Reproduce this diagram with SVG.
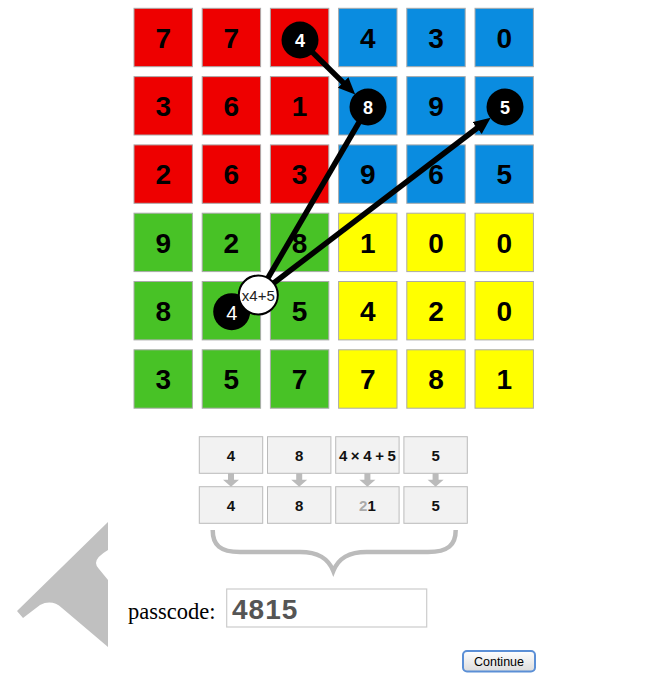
<svg xmlns="http://www.w3.org/2000/svg" width="658" height="685" viewBox="0 0 658 685">
<defs>
<style>
.cell{stroke:#aaaaaa;stroke-width:1}
.r{fill:#ee0000}.b{fill:#0a8ce0}.g{fill:#48c226}.y{fill:#ffff00}
.num{font-family:"Liberation Sans",Arial,sans-serif;font-weight:bold;font-size:28px;fill:#000;text-anchor:middle}
.dot{fill:#000}
.dtxt{font-family:"Liberation Sans",Arial,sans-serif;font-weight:bold;font-size:18px;fill:#fff;text-anchor:middle}
.conn{stroke:#000;stroke-width:5.5;fill:none}
.box{fill:#f2f2f2;stroke:#bbbbbb;stroke-width:1}
.btxt{font-family:"Liberation Sans",Arial,sans-serif;font-weight:bold;font-size:15px;fill:#111;text-anchor:middle}
.garrow{fill:#bbbbbb}
</style>
<marker id="ah" markerUnits="userSpaceOnUse" markerWidth="18" markerHeight="16" refX="8" refY="7.5" orient="auto">
<path d="M0,0 L17,7.5 L0,15 Z" fill="#000"/>
</marker>
<linearGradient id="btn" x1="0" y1="0" x2="0" y2="1">
<stop offset="0" stop-color="#ffffff"/>
<stop offset="1" stop-color="#dcdcdc"/>
</linearGradient>
</defs>

<g id="grid">
<g id="cell-0-0"><rect class="cell r" x="134" y="8.3" width="58.4" height="58.4"/><text class="num" x="163.2" y="47.8">7</text></g>
<g id="cell-1-0"><rect class="cell r" x="202.2" y="8.3" width="58.4" height="58.4"/><text class="num" x="231.4" y="47.8">7</text></g>
<g id="cell-2-0"><rect class="cell r" x="270.4" y="8.3" width="58.4" height="58.4"/></g>
<g id="cell-3-0"><rect class="cell b" x="338.6" y="8.3" width="58.4" height="58.4"/><text class="num" x="367.8" y="47.8">4</text></g>
<g id="cell-4-0"><rect class="cell b" x="406.8" y="8.3" width="58.4" height="58.4"/><text class="num" x="436" y="47.8">3</text></g>
<g id="cell-5-0"><rect class="cell b" x="475" y="8.3" width="58.4" height="58.4"/><text class="num" x="504.2" y="47.8">0</text></g>

<g id="cell-0-1"><rect class="cell r" x="134" y="76.6" width="58.4" height="58.4"/><text class="num" x="163.2" y="116.1">3</text></g>
<g id="cell-1-1"><rect class="cell r" x="202.2" y="76.6" width="58.4" height="58.4"/><text class="num" x="231.4" y="116.1">6</text></g>
<g id="cell-2-1"><rect class="cell r" x="270.4" y="76.6" width="58.4" height="58.4"/><text class="num" x="299.6" y="116.1">1</text></g>
<g id="cell-3-1"><rect class="cell b" x="338.6" y="76.6" width="58.4" height="58.4"/></g>
<g id="cell-4-1"><rect class="cell b" x="406.8" y="76.6" width="58.4" height="58.4"/><text class="num" x="436" y="116.1">9</text></g>
<g id="cell-5-1"><rect class="cell b" x="475" y="76.6" width="58.4" height="58.4"/></g>

<g id="cell-0-2"><rect class="cell r" x="134" y="144.9" width="58.4" height="58.4"/><text class="num" x="163.2" y="184.4">2</text></g>
<g id="cell-1-2"><rect class="cell r" x="202.2" y="144.9" width="58.4" height="58.4"/><text class="num" x="231.4" y="184.4">6</text></g>
<g id="cell-2-2"><rect class="cell r" x="270.4" y="144.9" width="58.4" height="58.4"/><text class="num" x="299.6" y="184.4">3</text></g>
<g id="cell-3-2"><rect class="cell b" x="338.6" y="144.9" width="58.4" height="58.4"/><text class="num" x="367.8" y="184.4">9</text></g>
<g id="cell-4-2"><rect class="cell b" x="406.8" y="144.9" width="58.4" height="58.4"/><text class="num" x="436" y="184.4">6</text></g>
<g id="cell-5-2"><rect class="cell b" x="475" y="144.9" width="58.4" height="58.4"/><text class="num" x="504.2" y="184.4">5</text></g>

<g id="cell-0-3"><rect class="cell g" x="134" y="213.2" width="58.4" height="58.4"/><text class="num" x="163.2" y="252.7">9</text></g>
<g id="cell-1-3"><rect class="cell g" x="202.2" y="213.2" width="58.4" height="58.4"/><text class="num" x="231.4" y="252.7">2</text></g>
<g id="cell-2-3"><rect class="cell g" x="270.4" y="213.2" width="58.4" height="58.4"/><text class="num" x="299.6" y="252.7">8</text></g>
<g id="cell-3-3"><rect class="cell y" x="338.6" y="213.2" width="58.4" height="58.4"/><text class="num" x="367.8" y="252.7">1</text></g>
<g id="cell-4-3"><rect class="cell y" x="406.8" y="213.2" width="58.4" height="58.4"/><text class="num" x="436" y="252.7">0</text></g>
<g id="cell-5-3"><rect class="cell y" x="475" y="213.2" width="58.4" height="58.4"/><text class="num" x="504.2" y="252.7">0</text></g>

<g id="cell-0-4"><rect class="cell g" x="134" y="281.5" width="58.4" height="58.4"/><text class="num" x="163.2" y="321">8</text></g>
<g id="cell-1-4"><rect class="cell g" x="202.2" y="281.5" width="58.4" height="58.4"/></g>
<g id="cell-2-4"><rect class="cell g" x="270.4" y="281.5" width="58.4" height="58.4"/><text class="num" x="299.6" y="321">5</text></g>
<g id="cell-3-4"><rect class="cell y" x="338.6" y="281.5" width="58.4" height="58.4"/><text class="num" x="367.8" y="321">4</text></g>
<g id="cell-4-4"><rect class="cell y" x="406.8" y="281.5" width="58.4" height="58.4"/><text class="num" x="436" y="321">2</text></g>
<g id="cell-5-4"><rect class="cell y" x="475" y="281.5" width="58.4" height="58.4"/><text class="num" x="504.2" y="321">0</text></g>

<g id="cell-0-5"><rect class="cell g" x="134" y="349.8" width="58.4" height="58.4"/><text class="num" x="163.2" y="389.3">3</text></g>
<g id="cell-1-5"><rect class="cell g" x="202.2" y="349.8" width="58.4" height="58.4"/><text class="num" x="231.4" y="389.3">5</text></g>
<g id="cell-2-5"><rect class="cell g" x="270.4" y="349.8" width="58.4" height="58.4"/><text class="num" x="299.6" y="389.3">7</text></g>
<g id="cell-3-5"><rect class="cell y" x="338.6" y="349.8" width="58.4" height="58.4"/><text class="num" x="367.8" y="389.3">7</text></g>
<g id="cell-4-5"><rect class="cell y" x="406.8" y="349.8" width="58.4" height="58.4"/><text class="num" x="436" y="389.3">8</text></g>
<g id="cell-5-5"><rect class="cell y" x="475" y="349.8" width="58.4" height="58.4"/><text class="num" x="504.2" y="389.3">1</text></g>
</g>

<g id="connectors">
<line class="conn" x1="300" y1="40" x2="348.8" y2="88.1" marker-end="url(#ah)"/>
<line class="conn" x1="258" y1="295" x2="368" y2="107"/>
<line class="conn" x1="258" y1="295" x2="483.5" y2="123.3" marker-end="url(#ah)"/>
</g>

<g id="dot-4"><circle class="dot" cx="300" cy="40" r="18.5"/><text class="dtxt" x="300" y="46.5">4</text></g>
<g id="dot-8"><circle class="dot" cx="368" cy="107" r="18.5"/><text class="dtxt" x="368" y="113.5">8</text></g>
<g id="dot-5"><circle class="dot" cx="505" cy="107" r="18.5"/><text class="dtxt" x="505" y="113.5">5</text></g>
<g id="dot-4b"><circle class="dot" cx="231.7" cy="311.7" r="18.5"/><text x="231.7" y="319.5" font-family="'Liberation Sans',Arial,sans-serif" font-size="20" fill="#fff" text-anchor="middle">4</text></g>
<g id="op"><circle cx="258.3" cy="295" r="19.5" fill="#fff" stroke="#000" stroke-width="2"/><text x="258.3" y="300.5" font-family="'Liberation Sans',Arial,sans-serif" font-size="15" fill="#222" text-anchor="middle">x4+5</text></g>

<g id="steps">
<g id="s1"><rect class="box" x="199.3" y="436.7" width="63.4" height="36.6"/><text class="btxt" x="231" y="460.5">4</text></g>
<g id="s2"><rect class="box" x="267.5" y="436.7" width="63.4" height="36.6"/><text class="btxt" x="299.2" y="460.5">8</text></g>
<g id="s3"><rect class="box" x="335.7" y="436.7" width="63.4" height="36.6"/><text class="btxt" x="367.4" y="460.5" font-size="16" textLength="57" lengthAdjust="spacing">4×4+5</text></g>
<g id="s4"><rect class="box" x="403.9" y="436.7" width="63.4" height="36.6"/><text class="btxt" x="435.6" y="460.5">5</text></g>
<g id="r1"><rect class="box" x="199.3" y="486.7" width="63.4" height="36.6"/><text class="btxt" x="231" y="510.5">4</text></g>
<g id="r2"><rect class="box" x="267.5" y="486.7" width="63.4" height="36.6"/><text class="btxt" x="299.2" y="510.5">8</text></g>
<g id="r3"><rect class="box" x="335.7" y="486.7" width="63.4" height="36.6"/><text class="btxt" x="367.4" y="510.5"><tspan fill="#aaaaaa">2</tspan>1</text></g>
<g id="r4"><rect class="box" x="403.9" y="486.7" width="63.4" height="36.6"/><text class="btxt" x="435.6" y="510.5">5</text></g>
<path class="garrow" d="M228,473.3 h6 v6.5 h5 l-8,7 l-8,-7 h5 z"/>
<path class="garrow" d="M296.2,473.3 h6 v6.5 h5 l-8,7 l-8,-7 h5 z"/>
<path class="garrow" d="M364.4,473.3 h6 v6.5 h5 l-8,7 l-8,-7 h5 z"/>
<path class="garrow" d="M432.6,473.3 h6 v6.5 h5 l-8,7 l-8,-7 h5 z"/>
</g>

<path id="brace" d="M212.7,530 C212.7,545 220,552 240,552 L300,552 C318,552 328,558 333.3,571 C338.6,558 348.6,552 366.6,552 L428,552 C448,552 455.7,545 455.7,530" fill="none" stroke="#bbbbbb" stroke-width="4.5"/>

<path id="cursor" d="M108,522 L108,550 Q96,557 96,563 Q96,566 99,569 L108,580 L108,647 L62,608 Q52,599 40,605 L23,618 L17,611 Z" fill="#c0c0c0"/>

<g id="passcode">
<text x="128" y="619" font-family="'Liberation Serif','Times New Roman',serif" font-size="22.5" fill="#000">passcode:</text>
<rect x="226.7" y="589" width="200" height="38" fill="#fff" stroke="#cccccc" stroke-width="1.2"/>
<text x="232" y="618.5" font-family="'Liberation Sans',Arial,sans-serif" font-weight="bold" font-size="28" fill="#555555" letter-spacing="1">4815</text>
</g>

<g id="continue">
<rect x="463" y="651" width="72" height="20.5" rx="4" fill="url(#btn)" stroke="#5b8fd6" stroke-width="2"/>
<text x="499" y="666" font-family="'Liberation Sans',Arial,sans-serif" font-size="12.5" fill="#000" text-anchor="middle">Continue</text>
</g>
</svg>
